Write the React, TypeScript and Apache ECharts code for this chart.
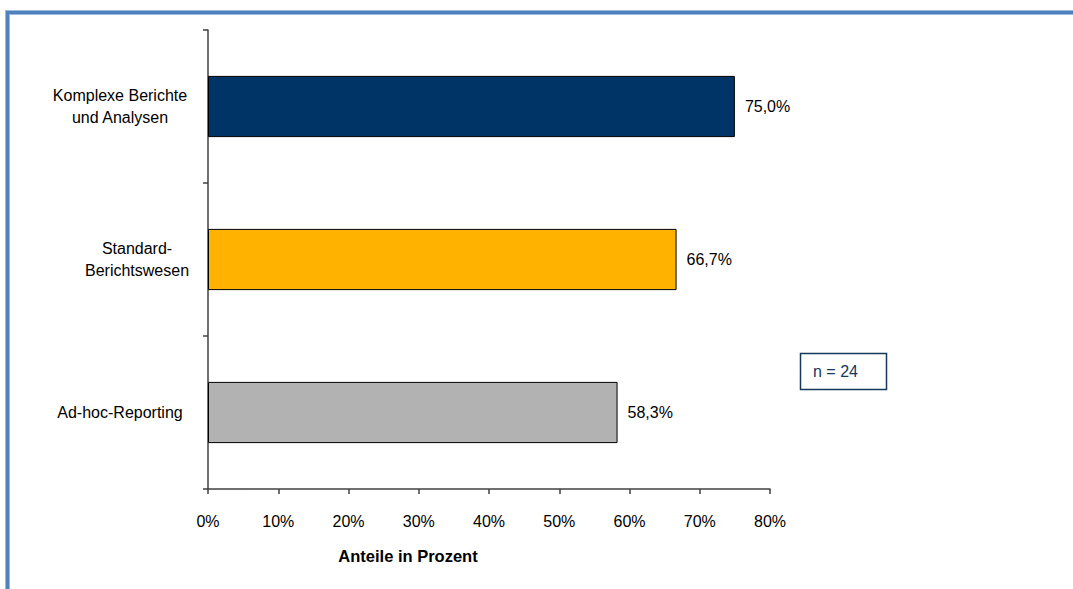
import React, { useEffect, useRef } from "react";
import * as echarts from "echarts";

const categories = ["Komplexe Berichte\nund Analysen", "Standard-\nBerichtswesen", "Ad-hoc-Reporting"];
const labelStyles = ["k", "s", "a"];
const values = [75.0, 66.7, 58.3];
const barColors = ["#003366", "#FFB300", "#B2B2B2"];
const xTicks = { min: 0, max: 80, interval: 10 };
const xAxisTitle = "Anteile in Prozent";
const sampleNote = "n = 24";

const FONT = "'Liberation Sans', Arial, sans-serif";

export default function App() {
  const ref = useRef<HTMLDivElement>(null);
  useEffect(() => {
    if (!ref.current) return;
    const chart = echarts.init(ref.current, undefined, { renderer: "svg" });
    const frame = "#4F81BD";
    chart.setOption({
      animation: false,
      backgroundColor: "#ffffff",
      textStyle: { fontFamily: FONT },
      grid: { left: 208, right: 303, top: 30, bottom: 100, containLabel: false },
      xAxis: {
        type: "value",
        min: xTicks.min,
        max: xTicks.max,
        interval: xTicks.interval,
        splitLine: { show: false },
        axisLine: { show: true, lineStyle: { color: "#404040", width: 1.5 } },
        axisTick: { show: true, length: 5, lineStyle: { color: "#404040", width: 1.5 } },
        axisLabel: {
          formatter: "{value}%",
          color: "#000",
          fontSize: 16,
          fontFamily: FONT,
          margin: 24,
        },
      },
      yAxis: {
        type: "category",
        inverse: true,
        data: categories,
        axisLine: { show: true, lineStyle: { color: "#404040", width: 1.5 } },
        axisTick: { show: true, length: 5, lineStyle: { color: "#404040", width: 1.5 } },
        axisLabel: {
          align: "center",
          margin: 88,
          color: "#000",
          fontSize: 16,
          fontFamily: FONT,
          lineHeight: 22,
          formatter: (v: string) => {
            const idx = categories.indexOf(v);
            const st = labelStyles[idx] || "k";
            return v
              .split("\n")
              .map((line) => `{${st}|${line}}`)
              .join("\n");
          },
          rich: {
            k: { fontSize: 16, lineHeight: 22, fontFamily: FONT, color: "#000" },
            s: { fontSize: 16, lineHeight: 22, fontFamily: FONT, color: "#000", padding: [0, 0, 0, 34] },
            a: { fontSize: 16, lineHeight: 22, fontFamily: FONT, color: "#000" },
          },
        },
      },
      series: [
        {
          type: "bar",
          barWidth: "40%",
          data: values.map((v, i) => ({
            value: v,
            itemStyle: { color: barColors[i], borderColor: "#000", borderWidth: 1 },
          })),
          label: {
            show: true,
            position: "right",
            distance: 10,
            color: "#000",
            fontSize: 16,
            fontFamily: FONT,
            formatter: (p: any) => p.value.toFixed(1).replace(".", ",") + "%",
          },
        },
      ],
      graphic: [
        {
          type: "rect",
          shape: { x: 5, y: 10, width: 1068, height: 5 },
          style: { fill: "#9DB9DD" },
          silent: true,
        },
        {
          type: "rect",
          shape: { x: 5, y: 10, width: 5, height: 579 },
          style: { fill: "#9DB9DD" },
          silent: true,
        },
        {
          type: "rect",
          shape: { x: 6, y: 11, width: 1067, height: 3 },
          style: { fill: frame },
          silent: true,
        },
        {
          type: "rect",
          shape: { x: 6, y: 11, width: 3, height: 578 },
          style: { fill: frame },
          silent: true,
        },
        {
          type: "text",
          x: 408,
          y: 556,
          style: {
            text: xAxisTitle,
            fill: "#000",
            font: `bold 16.5px ${FONT}`,
            textAlign: "center",
            textVerticalAlign: "middle",
          },
        },
        {
          type: "rect",
          shape: { x: 800.5, y: 353.5, width: 86, height: 36 },
          style: { fill: "#fff", stroke: "#17375E", lineWidth: 1.5 },
        },
        {
          type: "text",
          x: 813,
          y: 371,
          style: {
            text: sampleNote,
            fill: "#17375E",
            font: `16px ${FONT}`,
            textAlign: "left",
            textVerticalAlign: "middle",
          },
        },
      ],
    });
    return () => chart.dispose();
  }, []);
  return (
    <div
      ref={ref}
      style={{ position: "fixed", left: 0, top: 0, width: 1073, height: 589, background: "#fff" }}
    />
  );
}
